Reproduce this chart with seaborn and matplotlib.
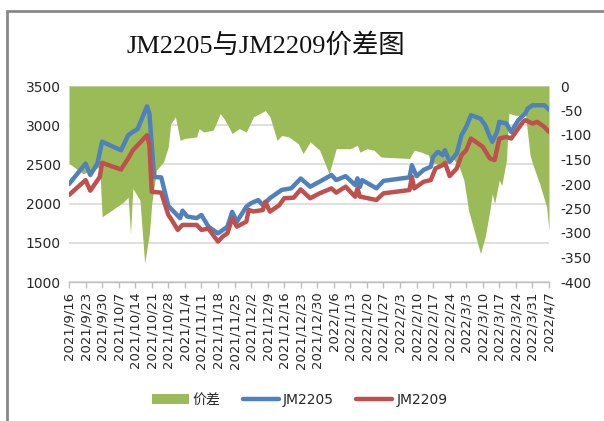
import matplotlib
matplotlib.use("Agg")
import matplotlib.pyplot as plt
from matplotlib.lines import Line2D
from matplotlib.patches import Patch, Rectangle
import pandas as pd
import seaborn as sns

sns.set_theme(style="white")
plt.rcParams['font.family'] = ['DejaVu Sans', 'Noto Sans CJK SC']

# ---------------- data ----------------
jm2205_dates = ["2021-09-16", "2021-09-23", "2021-09-25", "2021-09-28", "2021-09-30", "2021-10-08",
                "2021-10-11", "2021-10-13", "2021-10-15", "2021-10-19", "2021-10-20", "2021-10-22",
                "2021-10-25", "2021-10-28", "2021-11-02", "2021-11-03", "2021-11-05", "2021-11-09",
                "2021-11-11", "2021-11-14", "2021-11-18", "2021-11-22", "2021-11-24", "2021-11-26",
                "2021-11-30", "2021-12-02", "2021-12-05", "2021-12-07", "2021-12-10", "2021-12-15",
                "2021-12-19", "2021-12-23", "2021-12-27", "2021-12-31", "2022-01-05", "2022-01-07",
                "2022-01-11", "2022-01-15", "2022-01-16", "2022-01-17", "2022-01-18", "2022-01-24",
                "2022-01-27", "2022-02-07", "2022-02-08", "2022-02-10", "2022-02-13", "2022-02-16",
                "2022-02-17", "2022-02-19", "2022-02-21", "2022-02-22", "2022-02-24", "2022-02-27",
                "2022-03-01", "2022-03-03", "2022-03-05", "2022-03-07", "2022-03-09", "2022-03-11",
                "2022-03-13", "2022-03-14", "2022-03-16", "2022-03-17", "2022-03-20", "2022-03-22",
                "2022-03-25", "2022-03-28", "2022-03-29", "2022-03-31", "2022-04-05", "2022-04-07"]
jm2205_values = [2250, 2510, 2365, 2510, 2790, 2680,
                 2870, 2915, 2950, 3240, 3150, 2340,
                 2335, 1970, 1815, 1910, 1835, 1815,
                 1855, 1705, 1620, 1705, 1895, 1770,
                 1960, 2005, 2045, 1980, 2070, 2175,
                 2195, 2320, 2215, 2280, 2365, 2300,
                 2350, 2237, 2322, 2210, 2300, 2195,
                 2290, 2335, 2490, 2350, 2430, 2470,
                 2597, 2660, 2618, 2682, 2533, 2640,
                 2873, 2980, 3127, 3106, 3085, 3000,
                 2851, 2788, 2915, 3042, 3021, 2915,
                 3064, 3150, 3212, 3254, 3254, 3199]

jm2209_dates = ["2021-09-16", "2021-09-23", "2021-09-25", "2021-09-29", "2021-09-30", "2021-10-08",
                "2021-10-11", "2021-10-13", "2021-10-19", "2021-10-20", "2021-10-21", "2021-10-25",
                "2021-10-28", "2021-10-29", "2021-11-01", "2021-11-03", "2021-11-09", "2021-11-11",
                "2021-11-14", "2021-11-18", "2021-11-20", "2021-11-22", "2021-11-24", "2021-11-26",
                "2021-11-30", "2021-12-01", "2021-12-03", "2021-12-07", "2021-12-08", "2021-12-10",
                "2021-12-14", "2021-12-16", "2021-12-20", "2021-12-23", "2021-12-27", "2021-12-31",
                "2022-01-05", "2022-01-07", "2022-01-11", "2022-01-15", "2022-01-16", "2022-01-17",
                "2022-01-24", "2022-01-27", "2022-02-07", "2022-02-08", "2022-02-09", "2022-02-13",
                "2022-02-16", "2022-02-18", "2022-02-21", "2022-02-22", "2022-02-24", "2022-02-27",
                "2022-03-01", "2022-03-03", "2022-03-05", "2022-03-08", "2022-03-10", "2022-03-13",
                "2022-03-15", "2022-03-17", "2022-03-20", "2022-03-22", "2022-03-25", "2022-03-27",
                "2022-03-28", "2022-03-31", "2022-04-02", "2022-04-05", "2022-04-07"]
jm2209_values = [2110, 2300, 2165, 2340, 2520, 2435,
                 2575, 2680, 2873, 2745, 2150, 2140,
                 1855, 1813, 1665, 1728, 1728, 1665,
                 1680, 1516, 1580, 1621, 1813, 1706,
                 1770, 1918, 1900, 1918, 2024, 1897,
                 1982, 2068, 2076, 2181, 2068, 2131,
                 2194, 2140, 2216, 2088, 2194, 2090,
                 2046, 2131, 2173, 2342, 2194, 2279,
                 2300, 2449, 2491, 2520, 2351, 2449,
                 2618, 2682, 2830, 2767, 2724, 2576,
                 2555, 2830, 2851, 2830, 2958, 3042,
                 3064, 3021, 3042, 2979, 2915]

spread_dates = ["2021-09-16", "2021-09-22", "2021-09-26", "2021-09-29", "2021-09-30", "2021-10-04",
                "2021-10-09", "2021-10-11", "2021-10-12", "2021-10-13", "2021-10-16", "2021-10-18",
                "2021-10-20", "2021-10-21", "2021-10-23", "2021-10-26", "2021-10-28", "2021-10-29",
                "2021-10-31", "2021-11-02", "2021-11-04", "2021-11-09", "2021-11-10", "2021-11-12",
                "2021-11-16", "2021-11-19", "2021-11-21", "2021-11-24", "2021-11-27", "2021-11-30",
                "2021-12-03", "2021-12-07", "2021-12-08", "2021-12-10", "2021-12-13", "2021-12-15",
                "2021-12-18", "2021-12-22", "2021-12-24", "2021-12-27", "2021-12-31", "2022-01-04",
                "2022-01-07", "2022-01-13", "2022-01-16", "2022-01-17", "2022-01-20", "2022-01-23",
                "2022-01-26", "2022-02-07", "2022-02-09", "2022-02-12", "2022-02-15", "2022-02-16",
                "2022-02-18", "2022-02-22", "2022-02-25", "2022-02-28", "2022-03-02", "2022-03-04",
                "2022-03-09", "2022-03-11", "2022-03-13", "2022-03-14", "2022-03-15", "2022-03-17",
                "2022-03-18", "2022-03-20", "2022-03-21", "2022-03-24", "2022-03-27", "2022-03-28",
                "2022-03-30", "2022-03-31", "2022-04-03", "2022-04-06", "2022-04-07"]
spread_values = [-158, -179, -172, -165, -267, -254,
                 -237, -227, -301, -209, -233, -362,
                 -301, -240, -172, -155, -124, -77,
                 -63, -111, -107, -104, -87, -94,
                 -90, -56, -70, -97, -87, -94,
                 -63, -53, -50, -63, -111, -101,
                 -104, -118, -138, -114, -131, -179,
                 -128, -128, -121, -135, -128, -131,
                 -145, -148, -131, -135, -141, -155,
                 -158, -165, -145, -165, -192, -254,
                 -342, -308, -254, -220, -240, -192,
                 -203, -152, -56, -60, -60, -56,
                 -141, -158, -199, -247, -296]

tick_dates = pd.date_range("2021-09-16", "2022-04-07", freq="7D")
tick_labels = [f"{d.year}/{d.month}/{d.day}" for d in tick_dates]

left_ticks = [1000, 1500, 2000, 2500, 3000, 3500]
right_ticks = [0, -50, -100, -150, -200, -250, -300, -350, -400]

df5 = pd.DataFrame({"date": pd.to_datetime(jm2205_dates), "value": jm2205_values})
df9 = pd.DataFrame({"date": pd.to_datetime(jm2209_dates), "value": jm2209_values})
dfs = pd.DataFrame({"date": pd.to_datetime(spread_dates), "value": spread_values})

GREEN = "#9BBB59"
BLUE = "#4F81BD"
RED = "#C0504D"
GRID = "#D9D9D9"

fig = plt.figure(figsize=(6.04, 4.21), dpi=100)
fig.patch.set_facecolor("white")

# outer gray frame
fig.patches.append(Rectangle((7.5 / 604, -0.05), 1.2, 1 - 10.5 / 421 + 0.05,
                             transform=fig.transFigure, fill=False,
                             edgecolor="#888888", linewidth=2.0, zorder=0))

rect = [69 / 604, 1 - 282 / 421, (549 - 69) / 604, (282 - 86) / 421]
ax = fig.add_axes(rect)          # left scale + gridlines
ax2 = ax.twinx()                 # spread area (right scale)
ax3 = ax.twinx()                 # price lines (left scale, hidden ticks)

xmin, xmax = pd.Timestamp("2021-09-16"), pd.Timestamp("2022-04-07")

# gridlines (behind the area)
ax.set_ylim(1000, 3500)
ax.set_yticks(left_ticks)
ax.set_yticklabels([str(t) for t in left_ticks], fontsize=10, color="#262626")
ax.yaxis.grid(True, color=GRID, linewidth=1.2)
ax.xaxis.grid(False)
for s in ["top", "right", "left"]:
    ax.spines[s].set_visible(False)
ax.spines["bottom"].set_color("#BFBFBF")
ax.spines["bottom"].set_linewidth(1.0)
ax.tick_params(axis="y", length=0, pad=6, labelsize=10, colors="#262626")

# spread area
ax2.fill_between(dfs["date"], 0, dfs["value"], color=GREEN, linewidth=0)
ax2.set_ylim(-400, 0)
ax2.set_yticks(right_ticks)
ax2.set_yticklabels([str(t) for t in right_ticks], fontsize=10, color="#262626")
ax2.tick_params(axis="y", length=0, pad=8, labelsize=10, colors="#262626")
for s in ax2.spines.values():
    s.set_visible(False)
ax2.grid(False)

# price lines
sns.lineplot(data=df5, x="date", y="value", ax=ax3, color=BLUE, linewidth=3.2)
sns.lineplot(data=df9, x="date", y="value", ax=ax3, color=RED, linewidth=3.2)
ax3.set_ylim(1000, 3500)
ax3.set_yticks([])
ax3.set_ylabel("")
ax3.set_xlabel("")
for s in ax3.spines.values():
    s.set_visible(False)
ax3.grid(False)

for a in (ax, ax2, ax3):
    a.set_xlim(xmin, xmax)
ax.set_xticks(tick_dates)
ax.set_xticklabels(tick_labels, rotation=90, fontsize=9.5, color="#262626")
ax.tick_params(axis="x", length=4, width=1, color="#BFBFBF", pad=3, bottom=True)
ax2.tick_params(axis="x", bottom=False, labelbottom=False)
ax3.tick_params(axis="x", bottom=False, labelbottom=False)
ax.set_xlabel("")
ax.set_ylabel("")
ax2.set_ylabel("")

# title
fig.text(266 / 604, 1 - 45 / 421, "JM2205与JM2209价差图",
         family=["Liberation Serif", "Noto Sans CJK SC"], fontsize=19,
         ha="center", va="center", color="#111111")

# legend
handles = [Patch(facecolor=GREEN, edgecolor="none"),
           Line2D([0], [0], color=BLUE, linewidth=3.2),
           Line2D([0], [0], color=RED, linewidth=3.2)]
labels = ["价差", "JM2205", "JM2209"]
leg = fig.legend(handles, labels, loc="center", ncol=3, frameon=False,
                 bbox_to_anchor=(300 / 604, 1 - 400 / 421),
                 prop={"family": ["DejaVu Sans", "Noto Sans CJK SC"], "size": 10},
                 handlelength=2.6, handletextpad=0.3, columnspacing=1.6)
for t in leg.get_texts():
    t.set_color("#262626")

fig.savefig("out.png", dpi=100, facecolor="white")
